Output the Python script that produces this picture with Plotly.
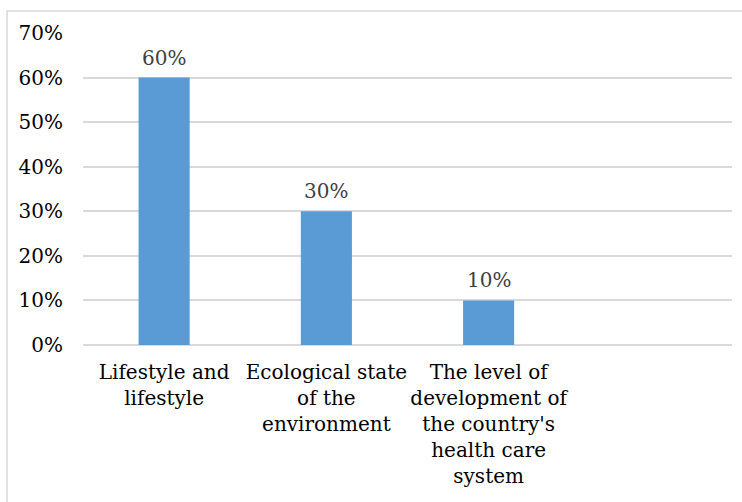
import plotly.graph_objects as go

categories = ["Lifestyle and<br>lifestyle",
              "Ecological state<br>of the<br>environment",
              "The level of<br>development of<br>the country's<br>health care<br>system"]
values = [0.60, 0.30, 0.10]
y_ticks = [0, 0.1, 0.2, 0.3, 0.4, 0.5, 0.6, 0.7]
y_tick_labels = ["0%", "10%", "20%", "30%", "40%", "50%", "60%", "70%"]

FONT = "DejaVu Serif"

fig = go.Figure()
fig.add_trace(go.Bar(
    x=categories, y=values,
    marker=dict(color="#5B9BD5", line=dict(width=0)),
    width=0.315,
    hoverinfo="skip",
))

for c, v in zip(categories, values):
    fig.add_annotation(x=c, y=v, text=f"{round(v*100)}%", showarrow=False,
                       yanchor="bottom", yshift=6,
                       font=dict(family=FONT, size=20, color="#404040"))

# chart area border
fig.add_shape(type="rect", xref="paper", yref="paper",
              x0=-0.117, x1=1.05, y0=-0.6, y1=1.0705,
              line=dict(color="#D9D9D9", width=1.5), layer="below")

fig.update_layout(
    width=742, height=502,
    margin=dict(l=83, r=10, t=33, b=157, autoexpand=False),
    paper_bgcolor="white", plot_bgcolor="white",
    showlegend=False,
    font=dict(family=FONT, size=20, color="#000000"),
    xaxis=dict(type="category", range=[-0.5, 3.5], showgrid=False,
               showline=False, zeroline=False, ticks="", automargin=False,
               tickfont=dict(family=FONT, size=20, color="#000000"),
               ticklabelstandoff=13),
    yaxis=dict(range=[0, 0.7], tickvals=y_ticks, ticktext=y_tick_labels,
               showgrid=True, gridcolor="#D9D9D9", gridwidth=1.5,
               zeroline=True, zerolinecolor="#D9D9D9", zerolinewidth=1.5,
               showline=False, ticks="", automargin=False,
               tickfont=dict(family=FONT, size=20, color="#000000"),
               ticklabelstandoff=19),
)

fig.write_html("out.html")
